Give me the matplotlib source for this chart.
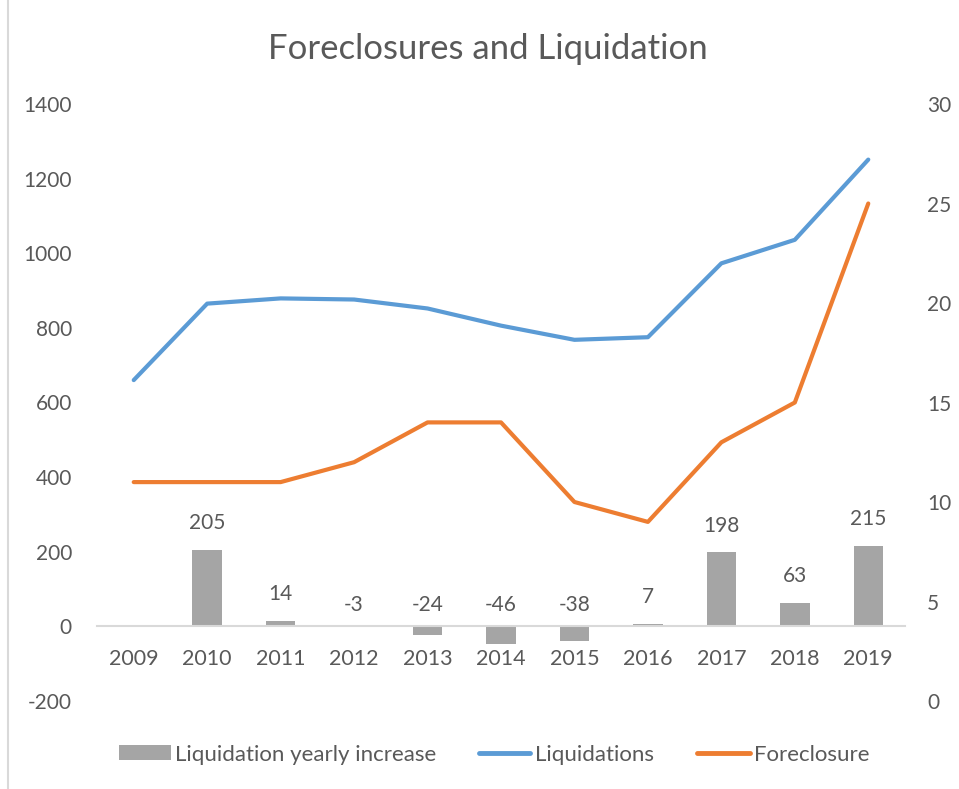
import matplotlib
matplotlib.use("Agg")
import matplotlib.pyplot as plt
from matplotlib.lines import Line2D
from matplotlib.patches import Rectangle

years = ["2009", "2010", "2011", "2012", "2013", "2014", "2015", "2016", "2017", "2018", "2019"]
yearly_increase = [None, 205, 14, -3, -24, -46, -38, 7, 198, 63, 215]
liquidations = [660, 865, 879, 876, 852, 806, 768, 775, 973, 1036, 1251]
foreclosure = [11, 11, 11, 12, 14, 14, 10, 9, 13, 15, 25]
left_ticks = [-200, 0, 200, 400, 600, 800, 1000, 1200, 1400]
right_ticks = [0, 5, 10, 15, 20, 25, 30]
legend_labels = ["Liquidation yearly increase", "Liquidations", "Foreclosure"]

plt.rcParams['font.family'] = ['Lato', 'DejaVu Sans']
plt.rcParams['axes.unicode_minus'] = False
TXT = '#595959'
BAR = '#A5A5A5'
BLUE = '#5B9BD5'
ORANGE = '#ED7D31'
GRID = '#D9D9D9'
W, H = 959, 789

fig = plt.figure(figsize=(9.59, 7.89), dpi=100)
ax = fig.add_axes([97/W, 1-701/H, 808/W, 597/H])
ax2 = ax.twinx()

x = list(range(len(years)))
bar_x = [i for i, v in zip(x, yearly_increase) if v is not None]
bar_v = [v for v in yearly_increase if v is not None]
ax.bar(bar_x, bar_v, width=0.4, color=BAR, zorder=2)
for xi, v in zip(bar_x, bar_v):
    if v >= 0:
        ax.annotate(str(v), (xi, v), xytext=(0, 12), textcoords='offset points',
                    ha='center', va='bottom', fontsize=15, color=TXT)
    else:
        ax.annotate(str(v), (xi, 0), xytext=(0, 8), textcoords='offset points',
                    ha='center', va='bottom', fontsize=15, color=TXT)

ax2.plot(x, foreclosure, color=ORANGE, lw=3, solid_capstyle='round', zorder=3)
ax.plot(x, liquidations, color=BLUE, lw=3, solid_capstyle='round', zorder=4)
ax.set_zorder(ax2.get_zorder() + 1)
ax.patch.set_visible(False)

ax.set_xlim(-0.5, len(years) - 0.5)
ax.set_ylim(-200, 1400)
ax2.set_ylim(0, 30)
ax.set_yticks(left_ticks)
ax2.set_yticks(right_ticks)
ax.set_xticks(x)
ax.set_xticklabels(years)

for a in (ax, ax2):
    for s in ('top', 'left', 'right', 'bottom'):
        a.spines[s].set_visible(False)
ax.spines['bottom'].set_visible(True)
ax.spines['bottom'].set_position(('data', 0))
ax.spines['bottom'].set_color(GRID)
ax.spines['bottom'].set_linewidth(1.5)
ax.tick_params(axis='x', length=0, pad=16, labelsize=15.5, labelcolor=TXT)
ax.tick_params(axis='y', length=0, pad=18, labelsize=15, labelcolor=TXT)
ax2.tick_params(axis='y', length=0, pad=16, labelsize=15, labelcolor=TXT)

fig.text(488/W, 1-49/H, "Foreclosures and Liquidation", ha='center', va='center',
         fontsize=25, color=TXT)

# legend drawn manually in figure pixel positions
ly = 1 - 753/H
fig.add_artist(Rectangle((119/W, 1-760/H), 52/W, 15/H, transform=fig.transFigure,
                         color=BAR, lw=0))
fig.add_artist(Line2D([479/W, 530/W], [ly, ly], transform=fig.transFigure, color=BLUE,
                      lw=3.5, solid_capstyle='round'))
fig.add_artist(Line2D([697/W, 750/W], [ly, ly], transform=fig.transFigure, color=ORANGE,
                      lw=3.5, solid_capstyle='round'))
for tx, lab in zip([175, 535, 754], legend_labels):
    fig.text(tx/W, ly, lab, ha='left', va='center_baseline', fontsize=16, color=TXT)

fig.add_artist(Line2D([8/W, 8/W], [0, 1], transform=fig.transFigure, color=GRID, lw=1.5))

fig.savefig("out.png", dpi=100)
